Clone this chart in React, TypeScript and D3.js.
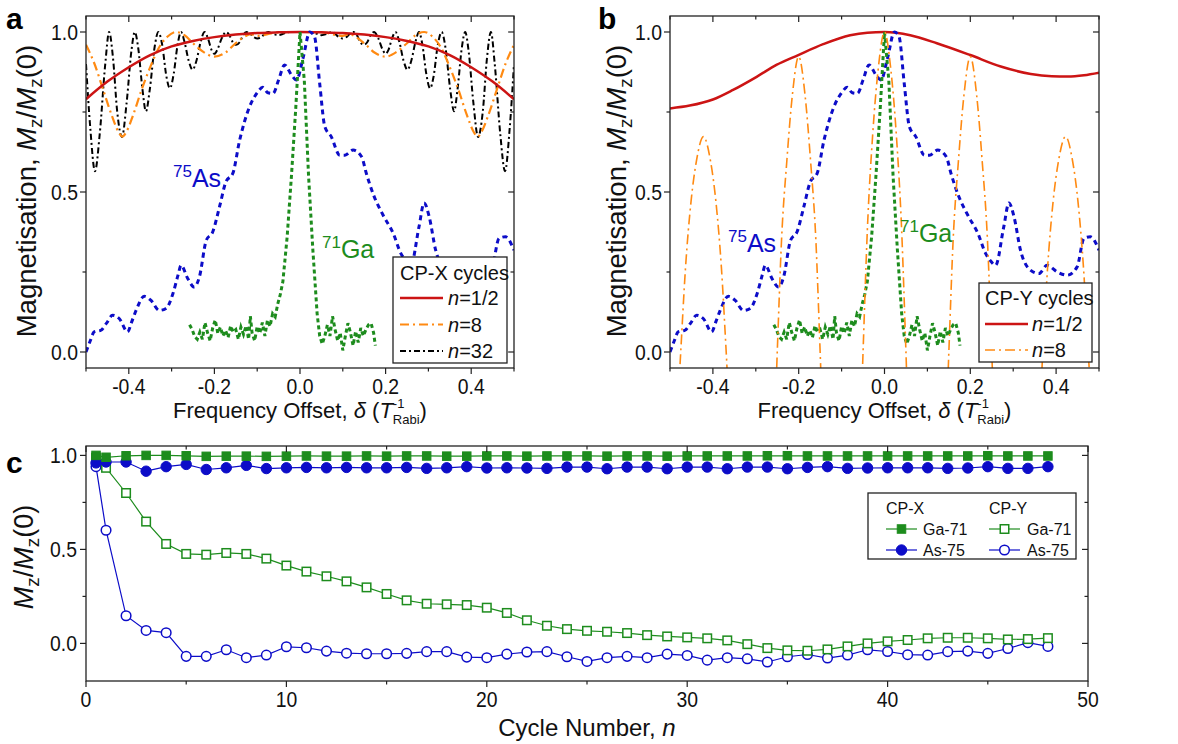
import React from 'react';
import * as d3 from 'd3';

const FONT = '"Liberation Sans", Arial, Helvetica, sans-serif';

// ---------- Panel a / b : frequency offset sweeps ----------
const offsetMajor = [-0.4, -0.2, 0, 0.2, 0.4];
const offsetMinor = [-0.5, -0.3, -0.1, 0.1, 0.3, 0.5];
const magMajor = [0, 0.5, 1];
const magMinor = [0.25, 0.75];
const magLabels = ['0.0', '0.5', '1.0'];
const offsetLabels = ['-0.4', '-0.2', '0.0', '0.2', '0.4'];

const cpxHalf: [number, number][] = [
  [-0.5, 0.79], [-0.45, 0.845], [-0.4, 0.89], [-0.35, 0.928], [-0.3, 0.955], [-0.25, 0.972], [-0.2, 0.984],
  [-0.15, 0.992], [-0.1, 0.997], [-0.05, 0.999], [0, 1], [0.05, 0.999], [0.1, 0.997], [0.15, 0.992],
  [0.2, 0.984], [0.25, 0.972], [0.3, 0.955], [0.35, 0.928], [0.4, 0.89], [0.45, 0.845], [0.5, 0.79],
];

const cpx8: [number, number][] = [
  [-0.5, 0.96], [-0.48, 0.9], [-0.46, 0.82], [-0.44, 0.74], [-0.425, 0.69], [-0.415, 0.673], [-0.405, 0.69],
  [-0.39, 0.74], [-0.37, 0.82], [-0.35, 0.89], [-0.33, 0.95], [-0.31, 0.985], [-0.29, 1.0], [-0.27, 0.99],
  [-0.25, 0.965], [-0.225, 0.937], [-0.2, 0.923], [-0.175, 0.935], [-0.15, 0.965], [-0.13, 0.985],
  [-0.115, 0.993], [-0.1, 0.988], [-0.085, 0.99], [-0.06, 0.998], [-0.03, 1.0], [0, 1.0],
  [0.03, 1.0], [0.06, 0.998], [0.085, 0.99], [0.1, 0.988], [0.115, 0.993], [0.13, 0.985], [0.15, 0.965],
  [0.175, 0.935], [0.2, 0.923], [0.225, 0.937], [0.25, 0.965], [0.27, 0.99], [0.29, 1.0], [0.31, 0.985],
  [0.33, 0.95], [0.35, 0.89], [0.37, 0.82], [0.39, 0.74], [0.405, 0.69], [0.415, 0.673], [0.425, 0.69],
  [0.44, 0.74], [0.46, 0.82], [0.48, 0.9], [0.5, 0.96],
];

const cpx32: [number, number][] = [
  [-0.5, 0.9], [-0.49, 0.7], [-0.479, 0.565], [-0.468, 0.68], [-0.455, 0.9], [-0.446, 1.0], [-0.437, 0.92],
  [-0.427, 0.75], [-0.416, 0.672], [-0.405, 0.78], [-0.394, 0.94], [-0.386, 1.0], [-0.378, 0.95],
  [-0.368, 0.82], [-0.36, 0.752], [-0.351, 0.82], [-0.34, 0.95], [-0.331, 1.0], [-0.322, 0.96],
  [-0.312, 0.86], [-0.304, 0.824], [-0.295, 0.87], [-0.286, 0.96], [-0.278, 1.0], [-0.27, 0.97],
  [-0.26, 0.91], [-0.251, 0.882], [-0.242, 0.91], [-0.232, 0.97], [-0.223, 1.0], [-0.215, 0.98],
  [-0.207, 0.945], [-0.2, 0.932], [-0.193, 0.945], [-0.183, 0.98], [-0.173, 1.0], [-0.165, 0.99],
  [-0.157, 0.968], [-0.149, 0.96], [-0.141, 0.968], [-0.133, 0.99], [-0.125, 1.0], [-0.117, 0.995],
  [-0.107, 0.983], [-0.099, 0.98], [-0.09, 0.985], [-0.08, 0.997], [-0.074, 1.0], [-0.065, 0.995],
  [-0.05, 0.99], [-0.038, 0.995], [-0.025, 1.0], [0, 1.0],
  [0.025, 1.0], [0.038, 0.995], [0.05, 0.99], [0.065, 0.995], [0.074, 1.0], [0.08, 0.997], [0.09, 0.985],
  [0.099, 0.98], [0.107, 0.983], [0.117, 0.995], [0.125, 1.0], [0.133, 0.99], [0.141, 0.968], [0.149, 0.96],
  [0.157, 0.968], [0.165, 0.99], [0.173, 1.0], [0.183, 0.98], [0.193, 0.945], [0.2, 0.932], [0.207, 0.945],
  [0.215, 0.98], [0.223, 1.0], [0.232, 0.97], [0.242, 0.91], [0.251, 0.882], [0.26, 0.91], [0.27, 0.97],
  [0.278, 1.0], [0.286, 0.96], [0.295, 0.87], [0.304, 0.824], [0.312, 0.86], [0.322, 0.96], [0.331, 1.0],
  [0.34, 0.95], [0.351, 0.82], [0.36, 0.752], [0.368, 0.82], [0.378, 0.95], [0.386, 1.0], [0.394, 0.94],
  [0.405, 0.78], [0.416, 0.672], [0.427, 0.75], [0.437, 0.92], [0.446, 1.0], [0.455, 0.9], [0.468, 0.68],
  [0.479, 0.565], [0.49, 0.7], [0.5, 0.9],
];

const cpyHalf: [number, number][] = [
  [-0.5, 0.761], [-0.454, 0.77], [-0.4, 0.789], [-0.353, 0.819], [-0.298, 0.86], [-0.252, 0.897],
  [-0.201, 0.928], [-0.143, 0.962], [-0.08, 0.99], [-0.04, 0.998], [0, 1.0], [0.06, 0.99], [0.122, 0.965],
  [0.2, 0.928], [0.271, 0.892], [0.341, 0.869], [0.39, 0.862], [0.427, 0.861], [0.465, 0.865], [0.5, 0.873],
];

const cpy8: [number, number][] = [
  [-0.5, -0.6], [-0.491, -0.4], [-0.475, 0], [-0.464, 0.26], [-0.451, 0.47], [-0.438, 0.6], [-0.422, 0.673],
  [-0.406, 0.6], [-0.393, 0.47], [-0.38, 0.26], [-0.369, 0], [-0.353, -0.4],
  [-0.265, -0.55], [-0.25, 0], [-0.24, 0.35], [-0.2275, 0.6], [-0.215, 0.8], [-0.2, 0.923], [-0.185, 0.8],
  [-0.1725, 0.6], [-0.16, 0.35], [-0.15, 0], [-0.135, -0.55],
  [-0.065, -0.6], [-0.05, 0], [-0.04, 0.38], [-0.0275, 0.68], [-0.015, 0.88], [0, 1.0], [0.015, 0.88],
  [0.0275, 0.68], [0.04, 0.38], [0.05, 0], [0.065, -0.6],
  [0.135, -0.55], [0.15, 0], [0.16, 0.35], [0.1725, 0.6], [0.185, 0.8], [0.2, 0.923], [0.215, 0.8],
  [0.2275, 0.6], [0.24, 0.35], [0.25, 0], [0.265, -0.55],
  [0.353, -0.4], [0.369, 0], [0.38, 0.26], [0.393, 0.47], [0.406, 0.6], [0.422, 0.673], [0.438, 0.6],
  [0.451, 0.47], [0.464, 0.26], [0.475, 0], [0.491, -0.4], [0.5, -0.6],
];

const as75Spectrum: [number, number][] = [
  [-0.5, 0.0], [-0.49, 0.035], [-0.481, 0.063], [-0.465, 0.068], [-0.452, 0.09], [-0.438, 0.115],
  [-0.422, 0.104], [-0.403, 0.063], [-0.393, 0.095], [-0.383, 0.13], [-0.364, 0.174], [-0.348, 0.161],
  [-0.329, 0.13], [-0.313, 0.136], [-0.297, 0.182], [-0.285, 0.24], [-0.278, 0.271], [-0.262, 0.229],
  [-0.247, 0.203], [-0.235, 0.235], [-0.219, 0.349], [-0.204, 0.375], [-0.188, 0.454], [-0.173, 0.532],
  [-0.157, 0.558], [-0.141, 0.662], [-0.118, 0.766], [-0.1, 0.81], [-0.087, 0.827], [-0.075, 0.81],
  [-0.063, 0.808], [-0.05, 0.85], [-0.036, 0.897], [-0.02, 0.866], [-0.008, 0.85], [0.007, 0.918],
  [0.023, 1.0], [0.034, 0.985], [0.046, 0.839], [0.058, 0.704], [0.073, 0.673], [0.093, 0.615],
  [0.105, 0.615], [0.124, 0.631], [0.144, 0.61], [0.155, 0.558], [0.172, 0.49], [0.194, 0.428],
  [0.218, 0.37], [0.235, 0.31], [0.247, 0.285], [0.259, 0.271], [0.278, 0.391], [0.29, 0.466],
  [0.302, 0.422], [0.317, 0.318], [0.341, 0.255], [0.36, 0.245], [0.379, 0.271], [0.403, 0.25],
  [0.426, 0.24], [0.449, 0.266], [0.465, 0.355], [0.48, 0.36], [0.5, 0.318],
];

const ga71Spectrum: [number, number][] = [
  [-0.258, 0.085], [-0.252, 0.07], [-0.246, 0.048], [-0.24, 0.04], [-0.234, 0.062], [-0.228, 0.04],
  [-0.222, 0.092], [-0.216, 0.06], [-0.21, 0.035], [-0.204, 0.075], [-0.198, 0.1], [-0.192, 0.058],
  [-0.186, 0.078], [-0.18, 0.05], [-0.174, 0.068], [-0.168, 0.045], [-0.162, 0.082], [-0.156, 0.062],
  [-0.15, 0.07], [-0.144, 0.04], [-0.138, 0.078], [-0.132, 0.055], [-0.126, 0.082], [-0.12, 0.04],
  [-0.116, 0.112], [-0.112, 0.06], [-0.106, 0.035], [-0.1, 0.08], [-0.094, 0.058], [-0.088, 0.092],
  [-0.082, 0.05], [-0.076, 0.1], [-0.07, 0.08], [-0.064, 0.12], [-0.058, 0.11], [-0.052, 0.15],
  [-0.046, 0.18], [-0.04, 0.22], [-0.03, 0.36], [-0.02, 0.55], [-0.01, 0.76], [0, 1.0], [0.01, 0.85],
  [0.02, 0.55], [0.03, 0.32], [0.04, 0.12], [0.046, 0.05], [0.052, 0.025], [0.058, 0.05], [0.064, 0.085],
  [0.07, 0.05], [0.076, 0.112], [0.082, 0.07], [0.088, 0.035], [0.094, 0.06], [0.1, 0.005], [0.106, 0.05],
  [0.112, 0.09], [0.118, 0.06], [0.124, 0.02], [0.13, 0.065], [0.136, 0.03], [0.142, 0.075], [0.148, 0.05],
  [0.154, 0.07], [0.16, 0.085], [0.166, 0.09], [0.172, 0.06], [0.176, 0.02],
];

// ---------- Panel c : cycle number ----------
const cycles = [0.5, 1, 2, 3, 4, 5, 6, 7, 8, 9, 10, 11, 12, 13, 14, 15, 16, 17, 18, 19, 20, 21, 22, 23, 24,
  25, 26, 27, 28, 29, 30, 31, 32, 33, 34, 35, 36, 37, 38, 39, 40, 41, 42, 43, 44, 45, 46, 47, 48];
const gaCPX = [1.0, 0.99, 0.998, 1.0, 1.0, 0.998, 0.995, 0.996, 0.996, 0.995,
  0.996, 0.997, 0.996, 0.996, 0.997, 0.996, 0.997, 0.997, 0.996, 0.996,
  0.997, 0.997, 0.996, 0.997, 0.997, 0.997, 0.996, 0.997, 0.997, 0.996,
  0.997, 0.997, 0.997, 0.997, 0.998, 0.998, 0.997, 0.997, 0.997, 0.997,
  0.997, 0.997, 0.997, 0.997, 0.997, 0.998, 0.997, 0.997, 0.997];
const asCPX = [0.96, 0.965, 0.965, 0.916, 0.94, 0.952, 0.925, 0.934, 0.947, 0.93,
  0.934, 0.936, 0.934, 0.936, 0.934, 0.934, 0.936, 0.931, 0.934, 0.94,
  0.933, 0.934, 0.933, 0.931, 0.938, 0.938, 0.929, 0.938, 0.938, 0.929,
  0.938, 0.938, 0.929, 0.938, 0.938, 0.929, 0.936, 0.94, 0.931, 0.933,
  0.934, 0.934, 0.934, 0.931, 0.933, 0.94, 0.931, 0.931, 0.94];
const gaCPY = [0.988, 0.934, 0.8, 0.648, 0.529, 0.476, 0.472, 0.481, 0.476, 0.451,
  0.414, 0.382, 0.357, 0.33, 0.298, 0.263, 0.229, 0.211, 0.208, 0.204,
  0.19, 0.162, 0.123, 0.094, 0.076, 0.067, 0.062, 0.055, 0.044, 0.037,
  0.032, 0.027, 0.016, -0.004, -0.025, -0.037, -0.039, -0.032, -0.016, 0.0,
  0.011, 0.018, 0.027, 0.03, 0.03, 0.027, 0.021, 0.023, 0.028];
const asCPY = [0.94, 0.602, 0.147, 0.069, 0.057, -0.069, -0.069, -0.034, -0.076, -0.062,
  -0.018, -0.023, -0.041, -0.052, -0.055, -0.055, -0.053, -0.044, -0.044, -0.073,
  -0.076, -0.057, -0.046, -0.044, -0.071, -0.096, -0.076, -0.069, -0.076, -0.057,
  -0.064, -0.089, -0.076, -0.082, -0.099, -0.071, -0.059, -0.078, -0.062, -0.034,
  -0.043, -0.06, -0.062, -0.044, -0.041, -0.053, -0.027, 0.004, -0.016];
const cycleMajor = [0, 10, 20, 30, 40, 50];
const cycleMinor = [5, 15, 25, 35, 45];

const RED = '#cc1414';
const ORANGE = '#ff8a12';
const BLUE = '#0c0cc8';
const GREEN = '#1d8c1d';
const AX = '#222';

type P = [number, number];

function Axes({ xs, ys, xMajor, xMinor, yMajor, yMinor }: any) {
  const [x0, x1] = xs.range();
  const [y1, y0] = ys.range();
  const els: any[] = [];
  xMajor.forEach((v: number, i: number) => {
    const x = xs(v);
    els.push(<line key={'xb' + i} x1={x} x2={x} y1={y1} y2={y1 + 6} stroke={AX} strokeWidth={1.2} />);
    els.push(<line key={'xt' + i} x1={x} x2={x} y1={y0} y2={y0 + 6} stroke={AX} strokeWidth={1.2} />);
  });
  xMinor.forEach((v: number, i: number) => {
    const x = xs(v);
    els.push(<line key={'xbm' + i} x1={x} x2={x} y1={y1} y2={y1 + 3.5} stroke={AX} strokeWidth={1.2} />);
    els.push(<line key={'xtm' + i} x1={x} x2={x} y1={y0} y2={y0 + 3.5} stroke={AX} strokeWidth={1.2} />);
  });
  yMajor.forEach((v: number, i: number) => {
    const y = ys(v);
    els.push(<line key={'yl' + i} x1={x0 - 6} x2={x0} y1={y} y2={y} stroke={AX} strokeWidth={1.2} />);
    els.push(<line key={'yr' + i} x1={x1 - 6} x2={x1} y1={y} y2={y} stroke={AX} strokeWidth={1.2} />);
  });
  yMinor.forEach((v: number, i: number) => {
    const y = ys(v);
    els.push(<line key={'ylm' + i} x1={x0 - 3.5} x2={x0} y1={y} y2={y} stroke={AX} strokeWidth={1.2} />);
    els.push(<line key={'yrm' + i} x1={x1 - 3.5} x2={x1} y1={y} y2={y} stroke={AX} strokeWidth={1.2} />);
  });
  return (
    <g>
      <rect x={x0} y={y0} width={x1 - x0} height={y1 - y0} fill="none" stroke={AX} strokeWidth={1.3} />
      {els}
    </g>
  );
}

function TickText({ x, y, anchor, children }: any) {
  return (
    <text transform={`translate(${x},${y}) scale(0.88,1)`} textAnchor={anchor} fontSize={22} fill="#111">
      {children}
    </text>
  );
}

function XTitleDelta({ x }: { x: number }) {
  return (
    <text x={x} y={418} textAnchor="middle" fontSize={22} fill="#111">
      Frequency Offset, <tspan fontStyle="italic">δ</tspan> (<tspan fontStyle="italic">T</tspan>
      <tspan fontSize={13} dy={-10}>-1</tspan>
      <tspan fontSize={13} dx={-11.6} dy={16}>Rabi</tspan>
      <tspan dy={-6}>)</tspan>
    </text>
  );
}

function YTitleMag({ x }: { x: number }) {
  return (
    <text transform={`translate(${x},191) rotate(-90)`} textAnchor="middle" fontSize={27.5} fill="#111">
      Magnetisation, <tspan fontStyle="italic">M</tspan>
      <tspan fontSize={19} dy={6}>z</tspan>
      <tspan dy={-6}>/</tspan>
      <tspan fontStyle="italic">M</tspan>
      <tspan fontSize={19} dy={6}>z</tspan>
      <tspan dy={-6}>(0)</tspan>
    </text>
  );
}

function Isotope({ x, y, mass, sym, color }: any) {
  return (
    <text x={x} y={y} fontSize={25} fill={color}>
      <tspan fontSize={17} dy={-10}>{mass}</tspan>
      <tspan dy={10}>{sym}</tspan>
    </text>
  );
}

export default function App() {
  const aX = d3.scaleLinear().domain([-0.5, 0.5]).range([86, 514]);
  const bX = d3.scaleLinear().domain([-0.5, 0.5]).range([670, 1099]);
  const abY = d3.scaleLinear().domain([-0.05, 1.05]).range([368, 16]);
  const cX = d3.scaleLinear().domain([0, 50]).range([86, 1088]);
  const cY = d3.scaleLinear().domain([-0.2, 1.05]).range([681, 446]);

  const mk = (xs: any, curve: any) => d3.line<P>().x((d) => xs(d[0])).y((d) => abY(d[1])).curve(curve);
  const aSmooth = mk(aX, d3.curveMonotoneX);
  const aLin = mk(aX, d3.curveLinear);
  const bSmooth = mk(bX, d3.curveMonotoneX);
  const bLin = mk(bX, d3.curveLinear);

  const cLine = d3.line<number>().x((_, i) => cX(cycles[i])).y((d) => cY(d));

  const sq = 8.5;
  const cr = 4.8;

  const legendA = [
    { label: '1/2', color: RED, dash: undefined, w: 2.5 },
    { label: '8', color: ORANGE, dash: '9,4,2,4', w: 2.2 },
    { label: '32', color: '#000', dash: '6,3,2,3', w: 2 },
  ];
  const legendB = [
    { label: '1/2', color: RED, dash: undefined, w: 2.5 },
    { label: '8', color: ORANGE, dash: '10,4,2,4', w: 1.6 },
  ];

  return (
    <svg width={1178} height={744} style={{ position: 'absolute', left: 0, top: 0, background: '#fff' }} fontFamily={FONT}>
      <defs>
        <clipPath id="clipA"><rect x={86} y={16} width={428} height={352} /></clipPath>
        <clipPath id="clipB"><rect x={670} y={16} width={429} height={352} /></clipPath>
      </defs>
      <rect x={0} y={0} width={1178} height={744} fill="#fff" />

      {/* ---------------- Panel a ---------------- */}
      <g clipPath="url(#clipA)" fill="none">
        <path d={aSmooth(cpx32) || ''} stroke="#000" strokeWidth={2} strokeDasharray="6,3,2,3" />
        <path d={aSmooth(cpx8) || ''} stroke={ORANGE} strokeWidth={2.2} strokeDasharray="9,4,2,4" />
        <path d={aSmooth(cpxHalf) || ''} stroke={RED} strokeWidth={2.5} />
        <path d={aSmooth(as75Spectrum) || ''} stroke={BLUE} strokeWidth={3} strokeDasharray="5,4" />
        <path d={aLin(ga71Spectrum) || ''} stroke={GREEN} strokeWidth={3} strokeDasharray="4,3" />
      </g>
      <Axes xs={aX} ys={abY} xMajor={offsetMajor} xMinor={offsetMinor} yMajor={magMajor} yMinor={magMinor} />
      {offsetMajor.map((v, i) => (
        <TickText key={'axl' + i} x={aX(v)} y={394} anchor="middle">{offsetLabels[i]}</TickText>
      ))}
      {magMajor.map((v, i) => (
        <TickText key={'ayl' + i} x={78} y={abY(v) + 8} anchor="end">{magLabels[i]}</TickText>
      ))}
      <XTitleDelta x={300} />
      <YTitleMag x={36} />
      <text x={6} y={29} fontSize={30} fontWeight="bold" fill="#000">a</text>
      <Isotope x={173} y={187} mass="75" sym="As" color={BLUE} />
      <Isotope x={322} y={258} mass="71" sym="Ga" color={GREEN} />
      <g>
        <rect x={393} y={257} width={114} height={106} fill="#fff" stroke={AX} strokeWidth={1.3} />
        <text x={400} y={280} fontSize={20} fill="#111">CP-X cycles</text>
        {legendA.map((l, i) => {
          const y = 298 + i * 26.5;
          return (
            <g key={'la' + i}>
              <line x1={400} x2={443} y1={y} y2={y} stroke={l.color} strokeWidth={l.w} strokeDasharray={l.dash} />
              <text x={448} y={y + 7} fontSize={20} fill="#111"><tspan fontStyle="italic">n</tspan>={l.label}</text>
            </g>
          );
        })}
      </g>

      {/* ---------------- Panel b ---------------- */}
      <g clipPath="url(#clipB)" fill="none">
        <path d={bSmooth(cpyHalf) || ''} stroke={RED} strokeWidth={2.5} />
        <path d={bSmooth(as75Spectrum) || ''} stroke={BLUE} strokeWidth={3} strokeDasharray="5,4" />
        <path d={bLin(ga71Spectrum) || ''} stroke={GREEN} strokeWidth={3} strokeDasharray="4,3" />
        <path d={bSmooth(cpy8) || ''} stroke={ORANGE} strokeWidth={1.6} strokeDasharray="10,4,2,4" />
      </g>
      <Axes xs={bX} ys={abY} xMajor={offsetMajor} xMinor={offsetMinor} yMajor={magMajor} yMinor={magMinor} />
      {offsetMajor.map((v, i) => (
        <TickText key={'bxl' + i} x={bX(v)} y={394} anchor="middle">{offsetLabels[i]}</TickText>
      ))}
      {magMajor.map((v, i) => (
        <TickText key={'byl' + i} x={662} y={abY(v) + 8} anchor="end">{magLabels[i]}</TickText>
      ))}
      <XTitleDelta x={884.5} />
      <YTitleMag x={626} />
      <text x={598} y={29} fontSize={30} fontWeight="bold" fill="#000">b</text>
      <Isotope x={728} y={252} mass="75" sym="As" color={BLUE} />
      <Isotope x={900} y={242} mass="71" sym="Ga" color={GREEN} />
      <g>
        <rect x={979} y={283} width={113} height={79} fill="#fff" stroke={AX} strokeWidth={1.3} />
        <text x={985} y={305} fontSize={20} fill="#111">CP-Y cycles</text>
        {legendB.map((l, i) => {
          const y = 324 + i * 26;
          return (
            <g key={'lb' + i}>
              <line x1={985} x2={1028} y1={y} y2={y} stroke={l.color} strokeWidth={l.w} strokeDasharray={l.dash} />
              <text x={1032} y={y + 7} fontSize={20} fill="#111"><tspan fontStyle="italic">n</tspan>={l.label}</text>
            </g>
          );
        })}
      </g>

      {/* ---------------- Panel c ---------------- */}
      <g fill="none">
        <path d={cLine(gaCPY) || ''} stroke={GREEN} strokeWidth={1.2} />
        <path d={cLine(asCPY) || ''} stroke={BLUE} strokeWidth={1.2} />
        <path d={cLine(asCPX) || ''} stroke={BLUE} strokeWidth={1.2} />
        <path d={cLine(gaCPX) || ''} stroke={GREEN} strokeWidth={1.2} />
      </g>
      {asCPY.map((v, i) => (
        <circle key={'acy' + i} cx={cX(cycles[i])} cy={cY(v)} r={cr} fill="#fff" stroke={BLUE} strokeWidth={1.5} />
      ))}
      {gaCPY.map((v, i) => (
        <rect key={'gcy' + i} x={cX(cycles[i]) - sq / 2} y={cY(v) - sq / 2} width={sq} height={sq} fill="#fff" stroke={GREEN} strokeWidth={1.5} />
      ))}
      {asCPX.map((v, i) => (
        <circle key={'acx' + i} cx={cX(cycles[i])} cy={cY(v)} r={cr + 0.4} fill={BLUE} stroke={BLUE} strokeWidth={1} />
      ))}
      {gaCPX.map((v, i) => (
        <rect key={'gcx' + i} x={cX(cycles[i]) - sq / 2} y={cY(v) - sq / 2} width={sq} height={sq} fill={GREEN} stroke={GREEN} strokeWidth={1} />
      ))}
      <Axes xs={cX} ys={cY} xMajor={cycleMajor} xMinor={cycleMinor} yMajor={magMajor} yMinor={magMinor} />
      {cycleMajor.map((v, i) => (
        <TickText key={'cxl' + i} x={cX(v)} y={707} anchor="middle">{String(v)}</TickText>
      ))}
      {magMajor.map((v, i) => (
        <TickText key={'cyl' + i} x={77} y={cY(v) + 8} anchor="end">{magLabels[i]}</TickText>
      ))}
      <text x={587} y={736} textAnchor="middle" fontSize={24} fill="#111">
        Cycle Number, <tspan fontStyle="italic">n</tspan>
      </text>
      <text transform="translate(33,557) rotate(-90)" textAnchor="middle" fontSize={27} fill="#111">
        <tspan fontStyle="italic">M</tspan>
        <tspan fontSize={19} dy={6}>z</tspan>
        <tspan dy={-6}>/</tspan>
        <tspan fontStyle="italic">M</tspan>
        <tspan fontSize={19} dy={6}>z</tspan>
        <tspan dy={-6}>(0)</tspan>
      </text>
      <text x={6} y={473} fontSize={30} fontWeight="bold" fill="#000">c</text>
      <g>
        <rect x={868} y={493} width={208} height={66} fill="#fff" stroke={AX} strokeWidth={1.3} />
        <text x={886} y={514} fontSize={16} fill="#111">CP-X</text>
        <text x={989} y={514} fontSize={16} fill="#111">CP-Y</text>
        {/* CP-X Ga-71 */}
        <line x1={886} x2={917} y1={529} y2={529} stroke={GREEN} strokeWidth={1.2} />
        <rect x={901.5 - sq / 2} y={529 - sq / 2} width={sq} height={sq} fill={GREEN} stroke={GREEN} />
        <text x={923} y={534.5} fontSize={16} fill="#111">Ga-71</text>
        {/* CP-X As-75 */}
        <line x1={886} x2={917} y1={550} y2={550} stroke={BLUE} strokeWidth={1.2} />
        <circle cx={901.5} cy={550} r={cr + 0.4} fill={BLUE} stroke={BLUE} />
        <text x={923} y={555.5} fontSize={16} fill="#111">As-75</text>
        {/* CP-Y Ga-71 */}
        <line x1={989} x2={1020} y1={529} y2={529} stroke={GREEN} strokeWidth={1.2} />
        <rect x={1004.5 - sq / 2} y={529 - sq / 2} width={sq} height={sq} fill="#fff" stroke={GREEN} strokeWidth={1.5} />
        <text x={1027} y={534.5} fontSize={16} fill="#111">Ga-71</text>
        {/* CP-Y As-75 */}
        <line x1={989} x2={1020} y1={550} y2={550} stroke={BLUE} strokeWidth={1.2} />
        <circle cx={1004.5} cy={550} r={cr} fill="#fff" stroke={BLUE} strokeWidth={1.5} />
        <text x={1027} y={555.5} fontSize={16} fill="#111">As-75</text>
      </g>
    </svg>
  );
}
